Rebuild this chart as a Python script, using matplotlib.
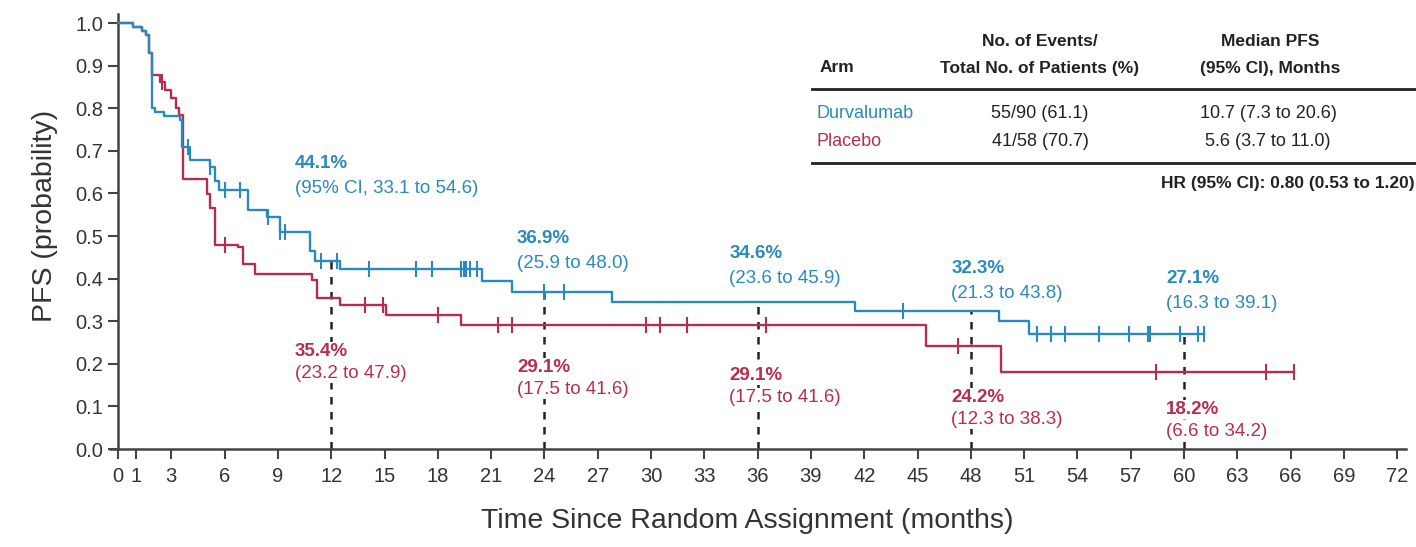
import numpy as np
import matplotlib
matplotlib.use("Agg")
import matplotlib.pyplot as plt

# Kaplan-Meier step data (time in months, PFS probability after each step)
dur_t = [0, 0.86, 1.33, 1.58, 1.77, 1.9, 2.1, 2.6, 3.5, 3.6, 4.05, 5.18, 5.46, 5.7,
         7.34, 8.4, 9.1, 10.8, 11.1, 12.5, 20.5, 22.2, 27.8, 41.5, 49.6, 51.3, 61.1]
dur_s = [1.0, 0.99, 0.981, 0.971, 0.93, 0.80, 0.791, 0.781, 0.772, 0.709, 0.679, 0.662, 0.63, 0.607,
         0.56, 0.545, 0.51, 0.465, 0.441, 0.422, 0.395, 0.369, 0.346, 0.323, 0.30, 0.271, 0.271]
dur_cens = [3.96, 5.18, 6.02, 6.87, 8.46, 9.1, 9.4, 11.4, 12.3, 14.1, 16.8, 17.7, 19.3, 19.45,
            19.6, 19.8, 20.2, 24.0, 25.1, 44.2, 51.7, 52.5, 53.3, 55.2, 56.9, 58.0, 58.1,
            59.8, 60.8, 61.1]

pla_t = [0, 0.86, 1.33, 1.58, 1.77, 1.9, 2.38, 2.66, 2.97, 3.27, 3.45, 3.67, 4.99, 5.2, 5.46,
         6.77, 7.05, 7.7, 10.9, 11.2, 12.5, 15.1, 19.3, 45.5, 49.7, 66.2]
pla_s = [1.0, 0.99, 0.981, 0.971, 0.93, 0.877, 0.861, 0.842, 0.825, 0.80, 0.785, 0.633, 0.598,
         0.567, 0.48, 0.474, 0.434, 0.412, 0.397, 0.354, 0.338, 0.315, 0.291, 0.242, 0.182, 0.182]
pla_cens = [2.5, 6.0, 13.9, 14.9, 18.0, 21.4, 22.2, 29.7, 30.5, 32.0, 36.5, 47.3, 58.4, 64.6, 66.2]

# landmark estimates
landmarks = [12, 24, 36, 48, 60]
dur_pct = ["44.1%", "36.9%", "34.6%", "32.3%", "27.1%"]
dur_ci = ["(95% CI, 33.1 to 54.6)", "(25.9 to 48.0)", "(23.6 to 45.9)", "(21.3 to 43.8)", "(16.3 to 39.1)"]
pla_pct = ["35.4%", "29.1%", "29.1%", "24.2%", "18.2%"]
pla_ci = ["(23.2 to 47.9)", "(17.5 to 41.6)", "(17.5 to 41.6)", "(12.3 to 38.3)", "(6.6 to 34.2)"]

x_ticks = [0, 1] + list(range(3, 73, 3))
y_ticks = np.round(np.arange(0, 1.01, 0.1), 1)

arms = ["Durvalumab", "Placebo"]
events = ["55/90 (61.1)", "41/58 (70.7)"]
medians = ["10.7 (7.3 to 20.6)", "5.6 (3.7 to 11.0)"]
hr_text = "HR (95% CI): 0.80 (0.53 to 1.20)"

BLUE = "#2a89bd"
RED = "#b62e4f"
GRAY = "#444444"

plt.rcParams["font.family"] = ["Liberation Sans", "DejaVu Sans"]


def step_value(t, s, x):
    idx = np.searchsorted(t, x, side="right") - 1
    return np.asarray(s)[idx]


fig = plt.figure(figsize=(14.16, 5.47), dpi=100)
ax = fig.add_axes([0.0777, 0.179, 0.9153, 0.7945])

for t, s, cens, col in [(pla_t, pla_s, pla_cens, RED), (dur_t, dur_s, dur_cens, BLUE)]:
    ax.step(t, s, where="post", color=col, lw=1.7, zorder=3)
    ax.plot(cens, step_value(t, s, cens), ls="none", marker="|", ms=12, mew=1.5,
            color=col, zorder=3)

for lm in landmarks:
    top = step_value(dur_t, dur_s, lm)
    ax.plot([lm, lm], [0, top], ls=(0, (3, 3)), color="#222222", lw=1.8, zorder=2)

# label anchors (months, probability)
lab_x = [9.96, 22.45, 34.4, 46.9, 59.0]
dur_y = [0.670, 0.494, 0.459, 0.424, 0.400]
pla_y = [0.229, 0.191, 0.173, 0.121, 0.093]
bg = dict(facecolor="white", edgecolor="none", pad=0.5)
for i in range(len(landmarks)):
    ax.text(lab_x[i], dur_y[i], dur_pct[i], color=BLUE, fontsize=13.5, fontweight="bold", va="center")
    ax.text(lab_x[i], dur_y[i] - 0.058, dur_ci[i], color=BLUE, fontsize=13.5, va="center")
    ax.text(lab_x[i], pla_y[i], pla_pct[i], color=RED, fontsize=13.5, fontweight="bold",
            va="center", bbox=bg, zorder=4)
    ax.text(lab_x[i], pla_y[i] - 0.052, pla_ci[i], color=RED, fontsize=13.5,
            va="center", bbox=bg, zorder=4)

ax.set_xlim(-0.45, 72.5)
ax.set_ylim(0, 1.02)
ax.set_xticks(x_ticks)
ax.set_yticks(y_ticks)
ax.set_yticklabels([f"{v:.1f}" for v in y_ticks])
ax.spines["left"].set_position(("data", 0))
for side in ["top", "right"]:
    ax.spines[side].set_visible(False)
for side in ["left", "bottom"]:
    ax.spines[side].set_color(GRAY)
    ax.spines[side].set_linewidth(1.8)
ax.tick_params(axis="both", colors=GRAY, width=1.5, length=7, labelsize=14.5, labelcolor="#333333")
ax.tick_params(axis="x", pad=6)

ax.set_xlabel("Time Since Random Assignment (months)", fontsize=20.5, color="#333333")
ax.set_ylabel("PFS (probability)", fontsize=20.5, color="#333333")
ax.xaxis.set_label_coords(0.4915, -0.135)
ax.yaxis.set_label_coords(-0.04, 0.536)

# summary table in figure pixel coordinates
W, H = 1416, 547


def fx(px):
    return px / W


def fy(py):
    return 1 - py / H


hdr = dict(fontsize=12.5, fontweight="bold", color="#222222", va="center")
fig.text(fx(820), fy(68), "Arm", ha="left", **hdr)
fig.text(fx(1040), fy(42), "No. of Events/", ha="center", **hdr)
fig.text(fx(1040), fy(68), "Total No. of Patients (%)", ha="center", **hdr)
fig.text(fx(1270), fy(42), "Median PFS", ha="center", **hdr)
fig.text(fx(1270), fy(68), "(95% CI), Months", ha="center", **hdr)
fig.add_artist(plt.Line2D([fx(812), fx(1415)], [fy(89), fy(89)], color="#222222", lw=2))
for i, (arm, col) in enumerate(zip(arms, [BLUE, RED])):
    yy = fy(113 + 29 * i)
    fig.text(fx(816), yy, arm, color=col, fontsize=13, va="center")
    fig.text(fx(1040), yy, events[i], color="#222222", fontsize=13, ha="center", va="center")
    fig.text(fx(1268), yy, medians[i], color="#222222", fontsize=13, ha="center", va="center")
fig.add_artist(plt.Line2D([fx(812), fx(1415)], [fy(163), fy(163)], color="#222222", lw=2))
fig.text(fx(1415), fy(184), hr_text, ha="right", **hdr)

fig.savefig("out.png", dpi=100)
